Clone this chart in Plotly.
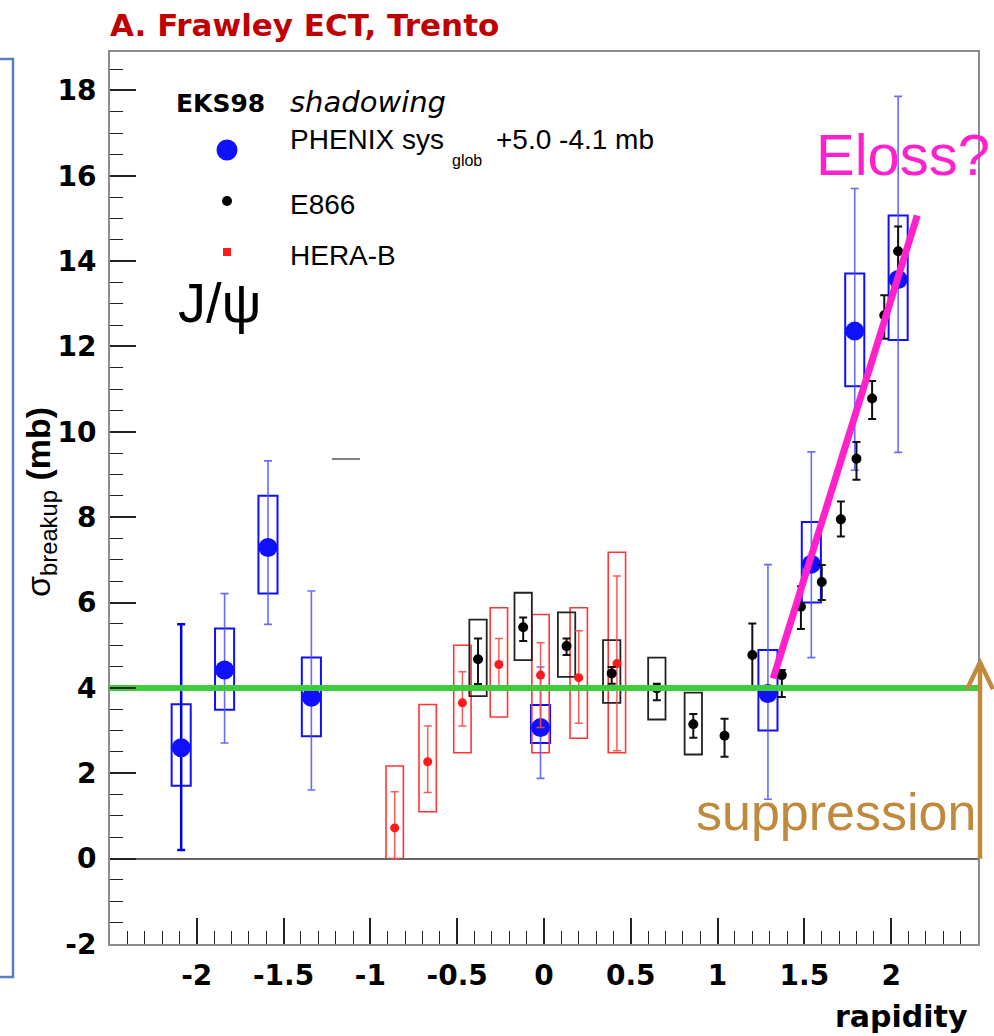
import plotly.graph_objects as go

# ---------------- data ----------------
# PHENIX (blue): value, statistical error ends, systematic box ends
phenix_x = [-2.09, -1.84, -1.59, -1.34, -0.02, 1.29, 1.54, 1.79, 2.04]
phenix_y = [2.60, 4.42, 7.29, 3.78, 3.07, 3.87, 6.90, 12.36, 13.57]
phenix_stat_hi = [5.49, 6.21, 9.32, 6.27, 4.49, 6.89, 9.53, 15.70, 17.86]
phenix_stat_lo = [0.20, 2.71, 5.49, 1.61, 1.88, 1.39, 4.71, 9.10, 9.52]
phenix_sys_hi = [3.62, 5.39, 8.50, 4.71, 3.60, 4.89, 7.89, 13.71, 15.07]
phenix_sys_lo = [1.71, 3.49, 6.21, 2.87, 2.71, 3.00, 6.00, 11.07, 12.15]

# E866 (black)
e866_x = [-0.38, -0.12, 0.13, 0.39, 0.65, 0.86, 1.04, 1.20, 1.37, 1.48,
          1.60, 1.71, 1.80, 1.89, 1.96, 2.04]
e866_y = [4.67, 5.42, 4.98, 4.34, 3.99, 3.15, 2.88, 4.77, 4.30, 5.90,
          6.48, 7.95, 9.37, 10.78, 12.73, 14.23]
e866_stat_hi = [5.16, 5.65, 5.16, 4.49, 4.10, 3.39, 3.28, 5.51, 4.42, 6.38,
                6.88, 8.37, 9.76, 11.19, 13.20, 14.81]
e866_stat_lo = [4.09, 5.10, 4.77, 4.10, 3.71, 2.83, 2.39, 3.95, 3.79, 5.38,
                6.06, 7.55, 8.88, 10.30, 12.18, 13.63]
# systematic boxes exist for the first six E866 points only
e866_box_x = [-0.38, -0.12, 0.13, 0.39, 0.65, 0.86]
e866_sys_hi = [5.60, 6.23, 5.77, 5.12, 4.71, 3.89]
e866_sys_lo = [3.81, 4.65, 4.26, 3.65, 3.26, 2.44]

# HERA-B (red)
herab_x = [-0.86, -0.67, -0.47, -0.26, -0.02, 0.20, 0.42]
herab_y = [0.72, 2.27, 3.65, 4.55, 4.30, 4.24, 4.57]
herab_stat_hi = [1.57, 3.11, 4.38, 5.16, 5.06, 5.34, 6.62]
herab_stat_lo = [0.00, 1.55, 3.11, 3.95, 3.07, 3.17, 2.53]
herab_sys_hi = [2.17, 3.61, 5.00, 5.88, 5.72, 5.88, 7.18]
herab_sys_lo = [0.00, 1.10, 2.48, 3.32, 2.48, 2.82, 2.48]

# reference lines
sigma_level = 4.0                  # green line (mb)
level_x = [-2.5, 2.5]
eloss_x = [1.32, 2.15]             # magenta "Eloss?" line
eloss_y = [4.22, 15.07]
suppress_tail, suppress_head = 0.0, 4.6   # brown arrow (mb)

x_ticks = [-2, -1.5, -1, -0.5, 0, 0.5, 1, 1.5, 2]
x_ticktext = ["-2", "-1.5", "-1", "-0.5", "0", "0.5", "1", "1.5", "2"]
y_ticks = [-2, 0, 2, 4, 6, 8, 10, 12, 14, 16, 18]
y_ticktext = ["-2", "0", "2", "4", "6", "8", "10", "12", "14", "16", "18"]

# ---------------- layout helpers ----------------
W, H = 994, 1036
PL, PR, PT, PB = 110, 978, 52, 944
Y_RANGE = [-2, 18.9]


def fx(px):
    return (px - PL) / (PR - PL)


def fy(py):
    return (PB - py) / (PB - PT)


def yfrac(v):
    """data y value -> fraction of plot height"""
    return (v - Y_RANGE[0]) / (Y_RANGE[1] - Y_RANGE[0])


BLUE = "#1010ff"
BLUE_ERR = "rgba(80,80,255,0.85)"
RED = "#ff3535"
RED_ERR = "rgba(255,70,70,0.9)"
BLACK = "#111111"
GREEN = "#3ccc3c"
MAGENTA = "#ff22cc"
BROWN = "#c08a3e"
SANS = "Liberation Sans, Arial, sans-serif"
BOLD = "DejaVu Sans, sans-serif"

fig = go.Figure()


def deltas(y, hi, lo):
    return [h - v for v, h in zip(y, hi)], [v - l for v, l in zip(y, lo)]


shapes = []


def add_boxes(xs, his, los, hw, color, width):
    for x, h, l in zip(xs, his, los):
        shapes.append(dict(type="rect", xref="x", yref="y", x0=x - hw, x1=x + hw,
                           y0=l, y1=h, line=dict(color=color, width=width),
                           fillcolor="rgba(0,0,0,0)", layer="below"))


add_boxes(phenix_x, phenix_sys_hi, phenix_sys_lo, 0.055, BLUE, 2)
add_boxes(herab_x, herab_sys_hi, herab_sys_lo, 0.05, RED, 1.6)
add_boxes(e866_box_x, e866_sys_hi, e866_sys_lo, 0.05, "#222222", 1.8)

# PHENIX points (first one has a darker error bar)
up, dn = deltas(phenix_y, phenix_stat_hi, phenix_stat_lo)
fig.add_trace(go.Scatter(
    x=phenix_x[:1], y=phenix_y[:1], mode="markers",
    marker=dict(color=BLUE, size=19),
    error_y=dict(type="data", symmetric=False, array=up[:1], arrayminus=dn[:1],
                 color="#0000e6", thickness=2.5, width=4)))
fig.add_trace(go.Scatter(
    x=phenix_x[1:], y=phenix_y[1:], mode="markers",
    marker=dict(color=BLUE, size=19),
    error_y=dict(type="data", symmetric=False, array=up[1:], arrayminus=dn[1:],
                 color=BLUE_ERR, thickness=1.6, width=4)))

# HERA-B
up, dn = deltas(herab_y, herab_stat_hi, herab_stat_lo)
fig.add_trace(go.Scatter(
    x=herab_x, y=herab_y, mode="markers",
    marker=dict(color="#ff1a1a", size=9),
    error_y=dict(type="data", symmetric=False, array=up, arrayminus=dn,
                 color=RED_ERR, thickness=1.5, width=4)))

# E866
up, dn = deltas(e866_y, e866_stat_hi, e866_stat_lo)
fig.add_trace(go.Scatter(
    x=e866_x, y=e866_y, mode="markers",
    marker=dict(color="black", size=10),
    error_y=dict(type="data", symmetric=False, array=up, arrayminus=dn,
                 color=BLACK, thickness=2, width=4)))

# green level line
fig.add_trace(go.Scatter(x=level_x, y=[sigma_level] * len(level_x), mode="lines",
                         line=dict(color=GREEN, width=6)))
# magenta Eloss line
fig.add_trace(go.Scatter(x=eloss_x, y=eloss_y, mode="lines",
                         line=dict(color=MAGENTA, width=7)))

# legend keys on a hidden overlay axis (fraction of the plot area)
legend_keys = [
    (fx(227), fy(150), "circle", 21, BLUE),
    (fx(227), fy(201), "circle", 10, "black"),
    (fx(227), fy(252), "square", 8, "#ff1a1a"),
]
for kx, ky, sym, sz, col in legend_keys:
    fig.add_trace(go.Scatter(x=[kx], y=[ky], mode="markers", xaxis="x2", yaxis="y2",
                             marker=dict(symbol=sym, size=sz, color=col),
                             cliponaxis=False))

annotations = []


def note(px, py, text, size, color="black", family=SANS, xanchor="left",
         weight="normal", style="normal", angle=0):
    annotations.append(dict(
        x=fx(px), y=fy(py), xref="paper", yref="paper", text=text,
        showarrow=False, xanchor=xanchor, yanchor="middle", textangle=angle,
        font=dict(size=size, color=color, family=family, weight=weight, style=style)))


note(108, 25, "A. Frawley ECT, Trento", 31, color="#c00000", family=BOLD, weight="bold")
note(174, 104, "EKS98", 25, family=BOLD, weight="bold")
note(288, 102, "shadowing", 29, family="DejaVu Sans, sans-serif", style="italic")
note(288, 139, "PHENIX sys", 28)
note(450, 161, "glob", 16)
note(494, 139, "+5.0 -4.1 mb", 28)
note(288, 204, "E866", 28)
note(288, 255, "HERA-B", 28)
note(176, 302, "J/ψ", 56)
note(814, 155, "Eloss?", 58, color=MAGENTA)
note(694, 812, "suppression", 52, color=BROWN)
note(970, 1016, "rapidity", 30, family=BOLD, weight="bold", xanchor="right")
note(40, 502, "σ<sub>breakup</sub> <b>(mb)</b>", 34, angle=-90, xanchor="center")

# brown suppression arrow drawn as paper-space path (open V head)
ax_ = fx(980)
wing_dx = 13 / (PR - PL)
wing_dy = 27 / (PB - PT)
head = yfrac(suppress_head)
tail = yfrac(suppress_tail)
shapes.append(dict(type="path", xref="paper", yref="paper",
                   path=f"M {ax_},{tail} L {ax_},{head}",
                   line=dict(color=BROWN, width=4.5), layer="above"))
shapes.append(dict(type="path", xref="paper", yref="paper",
                   path=f"M {ax_ - wing_dx},{head - wing_dy} L {ax_},{head} L {ax_ + wing_dx},{head - wing_dy}",
                   line=dict(color=BROWN, width=4.5), layer="above"))

# left slide border (blue) and small stray dash
shapes.append(dict(type="path", xref="paper", yref="paper",
                   path=f"M {fx(0)},{fy(59)} L {fx(13)},{fy(59)} L {fx(13)},{fy(977)} L {fx(0)},{fy(977)}",
                   line=dict(color="#5a7fc0", width=2.5)))
shapes.append(dict(type="line", xref="paper", yref="paper", x0=fx(332), x1=fx(360),
                   y0=fy(459), y1=fy(459), line=dict(color="#555555", width=1.5)))

tickfont = dict(family=BOLD, size=28, color="black", weight="bold")

fig.update_layout(
    width=W, height=H, autosize=False,
    margin=dict(l=PL, r=W - PR, t=PT, b=H - PB, pad=0),
    paper_bgcolor="white", plot_bgcolor="white", showlegend=False,
    font=dict(family=SANS),
    shapes=shapes, annotations=annotations,
    xaxis=dict(range=[-2.5, 2.5], tickmode="array", tickvals=x_ticks, ticktext=x_ticktext,
               ticks="inside", ticklen=26, tickwidth=1.5, tickcolor="#222",
               minor=dict(tickmode="linear", tick0=0, dtick=0.1, ticks="inside",
                          ticklen=13, tickwidth=1.2, tickcolor="#222", showgrid=False),
               showgrid=False, zeroline=False, showline=True, linecolor="#8c8c8c",
               linewidth=2, mirror=True, tickfont=tickfont, ticklabelstandoff=5),
    yaxis=dict(range=Y_RANGE, tickmode="array", tickvals=y_ticks, ticktext=y_ticktext,
               ticks="inside", ticklen=26, tickwidth=1.5, tickcolor="#222",
               minor=dict(tickmode="linear", tick0=0, dtick=0.5, ticks="inside",
                          ticklen=13, tickwidth=1.2, tickcolor="#222", showgrid=False),
               showgrid=False, zeroline=True, zerolinecolor="#666", zerolinewidth=1.5,
               showline=True, linecolor="#8c8c8c", linewidth=2, mirror=True,
               tickfont=tickfont, ticklabelstandoff=6),
    xaxis2=dict(overlaying="x", range=[0, 1], visible=False, fixedrange=True),
    yaxis2=dict(overlaying="y", range=[0, 1], visible=False, fixedrange=True),
)

fig.write_html("out.html")
